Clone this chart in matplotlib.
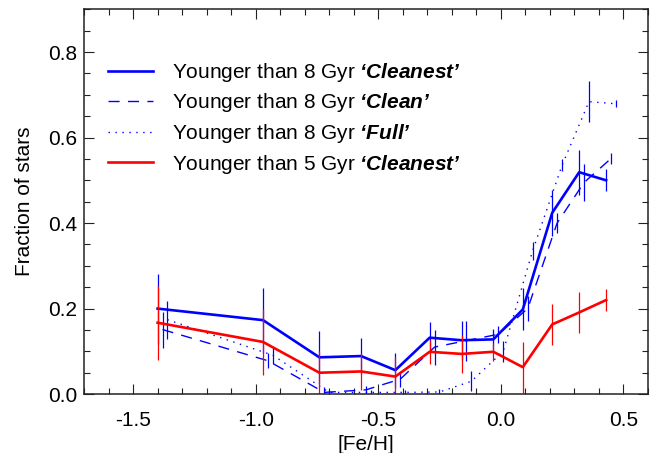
import numpy as np
import matplotlib
matplotlib.use("Agg")
import matplotlib.pyplot as plt
from matplotlib.ticker import MultipleLocator

plt.rcParams['font.family'] = ['Liberation Sans', 'DejaVu Sans']
plt.rcParams['font.size'] = 15
plt.rcParams['axes.unicode_minus'] = False
# mathtext is only used for the bold italic sample names in the legend
plt.rcParams['mathtext.fontset'] = 'custom'
plt.rcParams['mathtext.rm'] = 'Liberation Sans:italic:bold'
plt.rcParams['mathtext.it'] = 'Liberation Sans:italic:bold'

# bin centres in [Fe/H]
feh = np.array([-1.40, -0.97, -0.74, -0.57, -0.43, -0.29, -0.16, -0.03, 0.09, 0.21, 0.32, 0.43])

# younger than 8 Gyr, 'Cleanest'
y8_cleanest = [0.200, 0.173, 0.086, 0.089, 0.056, 0.132, 0.126, 0.128, 0.198, 0.424, 0.519, 0.500]
e8_cleanest = [0.082, 0.076, 0.062, 0.043, 0.041, 0.037, 0.046, 0.024, 0.049, 0.054, 0.053, 0.026]

# younger than 8 Gyr, 'Clean'
y8_clean = [0.151, 0.078, 0.004, 0.010, 0.035, 0.110, 0.125, 0.140, 0.200, 0.400, 0.495, 0.551]
e8_clean = [0.042, 0.018, 0.012, 0.010, 0.018, 0.041, 0.047, 0.020, 0.030, 0.024, 0.043, 0.013]

# younger than 8 Gyr, 'Full'
y8_full = [0.174, 0.091, 0.004, 0.004, 0.004, 0.005, 0.030, 0.100, 0.335, 0.535, 0.684, 0.679]
e8_full = [0.044, 0.020, 0.006, 0.006, 0.006, 0.008, 0.023, 0.025, 0.021, 0.014, 0.048, 0.008]

# younger than 5 Gyr, 'Cleanest'
y5_cleanest = [0.167, 0.122, 0.050, 0.053, 0.041, 0.099, 0.094, 0.099, 0.063, 0.163, 0.191, 0.220]
e5_cleanest = [0.087, 0.078, 0.050, 0.044, 0.045, 0.028, 0.045, 0.021, 0.060, 0.047, 0.047, 0.025]

fig = plt.figure(figsize=(6.57, 4.53), dpi=100)
ax = fig.add_axes([0.128, 0.130, 0.858, 0.8495])

blue = '#0000ff'
red = '#ff0000'

# 'Clean' and 'Full' are shifted a bit in x so the error bars don't overlap
ax.errorbar(feh + 0.02, y8_clean, yerr=e8_clean, fmt='none', ecolor=blue, elinewidth=0.9, capsize=0)
ax.plot(feh + 0.02, y8_clean, color=blue, lw=1.0, dashes=(8, 6),
        label='Younger than 8 Gyr $‘Clean’$')

ax.errorbar(feh + 0.04, y8_full, yerr=e8_full, fmt='none', ecolor=blue, elinewidth=0.9, capsize=0)
ax.plot(feh + 0.04, y8_full, color=blue, lw=1.0, dashes=(1, 4),
        label='Younger than 8 Gyr $‘Full’$')

ax.errorbar(feh, y8_cleanest, yerr=e8_cleanest, fmt='none', ecolor=blue, elinewidth=0.9, capsize=0)
ax.plot(feh, y8_cleanest, color=blue, lw=1.9,
        label='Younger than 8 Gyr $‘Cleanest’$')

ax.errorbar(feh, y5_cleanest, yerr=e5_cleanest, fmt='none', ecolor=red, elinewidth=0.9, capsize=0)
ax.plot(feh, y5_cleanest, color=red, lw=1.9,
        label='Younger than 5 Gyr $‘Cleanest’$')

ax.set_xlim(-1.7, 0.6)
ax.set_ylim(0.0, 0.9)
ax.xaxis.set_major_locator(MultipleLocator(0.5))
ax.xaxis.set_minor_locator(MultipleLocator(0.1))
ax.yaxis.set_major_locator(MultipleLocator(0.2))
ax.yaxis.set_minor_locator(MultipleLocator(0.05))
ax.tick_params(which='both', direction='in', top=True, right=True, width=0.8, color='#222222')
ax.tick_params(which='major', length=7.5)
ax.tick_params(which='minor', length=4)
ax.tick_params(axis='x', pad=12)
ax.tick_params(axis='y', pad=5)
for sp in ax.spines.values():
    sp.set_linewidth(1.1)
    sp.set_color('#222222')

ax.set_xlabel('[Fe/H]', labelpad=4)
ax.set_ylabel('Fraction of stars', labelpad=10)

handles, labels = ax.get_legend_handles_labels()
order = [2, 0, 1, 3]
ax.legend([handles[i] for i in order], [labels[i] for i in order],
          loc='upper left', bbox_to_anchor=(108 / 657, 1 - 61 / 453),
          bbox_transform=fig.transFigure, frameon=False, borderpad=0, borderaxespad=0,
          handlelength=2.16, handletextpad=0.9, labelspacing=0.36)

fig.savefig('out.png', dpi=100)
